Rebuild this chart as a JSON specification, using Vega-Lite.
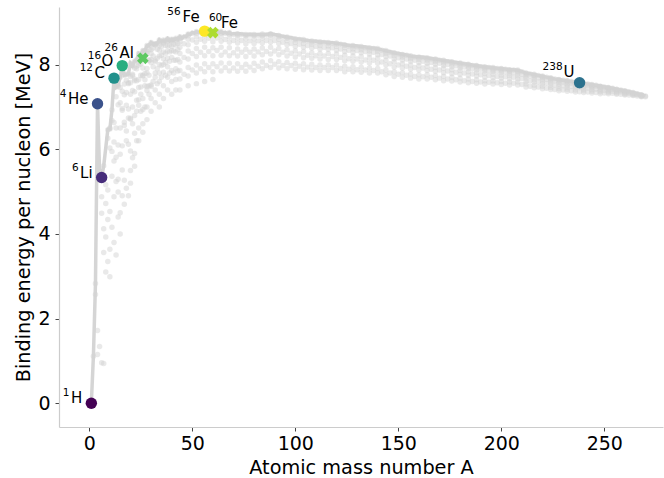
{
"$schema": "https://vega.github.io/schema/vega-lite/v6.json",
"width": 604, "height": 420,
"autosize": {"type": "none"},
"padding": {"left": 59, "top": 7, "right": 1, "bottom": 51},
"background": "white",
"config": {"view": {"stroke": null}, "font": "DejaVu Sans",
 "axis": {"grid": false, "domainColor": "#cccccc", "domainWidth": 1.2, "tickColor": "#444444", "tickSize": 4, "labelFontSize": 19, "titleFontSize": 19.3, "titleFontWeight": "normal", "labelColor": "#000000", "titleColor": "#000000", "labelFont": "DejaVu Sans", "titleFont": "DejaVu Sans"},
 "text": {"font": "DejaVu Sans", "color": "#000000"}},
"datasets": {
"cloud": [
{"a":2,"b":1.11},{"a":3,"b":2.83},{"a":3,"b":2.57},{"a":4,"b":1.72},{"a":4,"b":1.15},{"a":5,"b":5.48},{"a":5,"b":5.27},{"a":5,"b":1.34},
{"a":6,"b":4.88},{"a":6,"b":4.49},{"a":6,"b":0.96},{"a":7,"b":5.61},{"a":7,"b":5.37},{"a":7,"b":4.12},{"a":7,"b":3.56},{"a":7,"b":0.94},
{"a":8,"b":5.16},{"a":8,"b":4.72},{"a":8,"b":3.93},{"a":8,"b":3.1},
{"a":9,"b":6.46},{"a":9,"b":6.26},{"a":9,"b":5.04},{"a":9,"b":4.34},{"a":9,"b":3.35},
{"a":10,"b":6.5},{"a":10,"b":6.48},{"a":10,"b":6.03},{"a":10,"b":4.53},{"a":10,"b":3.64},{"a":10,"b":2.99},
{"a":11,"b":6.93},{"a":11,"b":6.68},{"a":11,"b":5.95},{"a":11,"b":5.36},{"a":11,"b":4.16},
{"a":12,"b":6.63},{"a":12,"b":6.17},{"a":12,"b":5.72},{"a":12,"b":4.88},{"a":12,"b":3.8},
{"a":13,"b":7.47},{"a":13,"b":7.24},{"a":13,"b":6.5},{"a":13,"b":5.81},{"a":13,"b":5.24},{"a":13,"b":3.5},
{"a":14,"b":7.52},{"a":14,"b":7.48},{"a":14,"b":7.05},{"a":14,"b":6.1},{"a":14,"b":5.29},{"a":14,"b":4.99},{"a":14,"b":4.4},
{"a":15,"b":7.7},{"a":15,"b":7.46},{"a":15,"b":7.1},{"a":15,"b":6.5},{"a":15,"b":5.88},{"a":15,"b":4.5},{"a":15,"b":4.0},
{"a":16,"b":7.37},{"a":16,"b":6.96},{"a":16,"b":6.92},{"a":16,"b":6.08},{"a":16,"b":5.51},{"a":16,"b":4.9},
{"a":17,"b":7.75},{"a":17,"b":7.54},{"a":17,"b":7.29},{"a":17,"b":6.64},{"a":17,"b":6.56},{"a":17,"b":5.27},{"a":17,"b":4.7},
{"a":18,"b":7.77},{"a":18,"b":7.63},{"a":18,"b":7.34},{"a":18,"b":7.04},{"a":18,"b":6.43},{"a":18,"b":6.2},{"a":18,"b":5.08},
{"a":19,"b":7.78},{"a":19,"b":7.57},{"a":19,"b":7.55},{"a":19,"b":6.95},{"a":19,"b":6.74},{"a":19,"b":6.12},{"a":19,"b":4.9},
{"a":20,"b":8.03},{"a":20,"b":7.72},{"a":20,"b":7.57},{"a":20,"b":7.3},{"a":20,"b":6.73},{"a":20,"b":6.71},{"a":20,"b":5.96},{"a":20,"b":5.5},{"a":20,"b":5.2},
{"a":21,"b":7.97},{"a":21,"b":7.77},{"a":21,"b":7.74},{"a":21,"b":7.39},{"a":21,"b":7.0},{"a":21,"b":6.6},{"a":21,"b":5.8},
{"a":22,"b":8.08},{"a":22,"b":7.92},{"a":22,"b":7.66},{"a":22,"b":7.62},{"a":22,"b":7.36},{"a":22,"b":6.8},{"a":22,"b":6.38},{"a":22,"b":5.9},{"a":22,"b":5.6},
{"a":23,"b":8.11},{"a":23,"b":7.96},{"a":23,"b":7.9},{"a":23,"b":7.62},{"a":23,"b":7.16},{"a":23,"b":6.9},{"a":23,"b":6.2},
{"a":24,"b":8.26},{"a":24,"b":8.06},{"a":24,"b":7.99},{"a":24,"b":7.65},{"a":24,"b":7.46},{"a":24,"b":7.17},{"a":24,"b":7.04},{"a":24,"b":6.5},{"a":24,"b":6.2},
{"a":25,"b":8.22},{"a":25,"b":8.1},{"a":25,"b":8.02},{"a":25,"b":7.75},{"a":25,"b":7.47},{"a":25,"b":7.3},{"a":25,"b":6.9},
{"a":26,"b":8.33},{"a":26,"b":7.92},{"a":26,"b":7.75},{"a":26,"b":7.73},{"a":26,"b":7.2},{"a":26,"b":6.94},{"a":26,"b":6.6},{"a":26,"b":6.4},
{"a":27,"b":8.33},{"a":27,"b":8.26},{"a":27,"b":8.12},{"a":27,"b":7.79},{"a":27,"b":7.64},{"a":27,"b":7.5},{"a":27,"b":7.0},
{"a":28,"b":8.45},{"a":28,"b":8.31},{"a":28,"b":8.27},{"a":28,"b":7.91},{"a":28,"b":7.8},{"a":28,"b":7.48},{"a":28,"b":7.39},{"a":28,"b":7.0},{"a":28,"b":6.7},
{"a":29,"b":8.45},{"a":29,"b":8.35},{"a":29,"b":8.11},{"a":29,"b":8.09},{"a":29,"b":7.75},{"a":29,"b":7.5},{"a":29,"b":7.3},
{"a":30,"b":8.52},{"a":30,"b":8.35},{"a":30,"b":8.26},{"a":30,"b":8.12},{"a":30,"b":8.05},{"a":30,"b":7.52},{"a":30,"b":7.48},{"a":30,"b":7.2},{"a":30,"b":6.9},
{"a":31,"b":8.48},{"a":31,"b":8.39},{"a":31,"b":8.2},{"a":31,"b":7.95},{"a":31,"b":7.6},
{"a":32,"b":8.49},{"a":32,"b":8.48},{"a":32,"b":8.46},{"a":32,"b":8.1},{"a":32,"b":8.07},{"a":32,"b":7.8},{"a":32,"b":7.7},{"a":32,"b":7.4},{"a":32,"b":7.1},
{"a":33,"b":8.5},{"a":33,"b":8.36},{"a":33,"b":8.15},{"a":33,"b":7.9},{"a":33,"b":7.55},
{"a":34,"b":8.58},{"a":34,"b":8.45},{"a":34,"b":8.34},{"a":34,"b":8.2},{"a":34,"b":8.0},{"a":34,"b":7.8},{"a":34,"b":7.6},{"a":34,"b":7.3},{"a":34,"b":7.0},
{"a":35,"b":8.54},{"a":35,"b":8.42},{"a":35,"b":8.22},{"a":35,"b":7.98},{"a":35,"b":7.7},
{"a":36,"b":8.58},{"a":36,"b":8.52},{"a":36,"b":8.5},{"a":36,"b":8.3},{"a":36,"b":8.14},{"a":36,"b":8.0},{"a":36,"b":7.82},{"a":36,"b":7.5},{"a":36,"b":7.2},
{"a":37,"b":8.56},{"a":37,"b":8.45},{"a":37,"b":8.27},{"a":37,"b":8.05},{"a":37,"b":7.75},
{"a":38,"b":8.61},{"a":38,"b":8.55},{"a":38,"b":8.44},{"a":38,"b":8.32},{"a":38,"b":8.15},{"a":38,"b":7.95},{"a":38,"b":7.7},{"a":38,"b":7.4},
{"a":39,"b":8.56},{"a":39,"b":8.46},{"a":39,"b":8.3},{"a":39,"b":8.08},{"a":39,"b":7.8},
{"a":40,"b":8.6},{"a":40,"b":8.58},{"a":40,"b":8.54},{"a":40,"b":8.43},{"a":40,"b":8.33},{"a":40,"b":8.17},{"a":40,"b":7.86},{"a":40,"b":7.6},{"a":40,"b":7.3},
{"a":41,"b":8.58},{"a":41,"b":8.48},{"a":41,"b":8.32},{"a":41,"b":8.1},{"a":41,"b":7.8},
{"a":42,"b":8.62},{"a":42,"b":8.58},{"a":42,"b":8.46},{"a":42,"b":8.3},{"a":42,"b":8.1},{"a":42,"b":7.9},{"a":42,"b":7.65},{"a":42,"b":7.4},
{"a":43,"b":8.6},{"a":43,"b":8.5},{"a":43,"b":8.35},{"a":43,"b":8.12},{"a":43,"b":7.85},
{"a":44,"b":8.66},{"a":44,"b":8.62},{"a":44,"b":8.54},{"a":44,"b":8.41},{"a":44,"b":8.26},{"a":44,"b":8.06},{"a":44,"b":7.86},{"a":44,"b":7.66},{"a":44,"b":7.4},
{"a":46,"b":8.65},{"a":46,"b":8.49},{"a":46,"b":8.17},{"a":46,"b":7.77},
{"a":48,"b":8.72},{"a":48,"b":8.68},{"a":48,"b":8.6},{"a":48,"b":8.47},{"a":48,"b":8.32},{"a":48,"b":8.13},{"a":48,"b":7.93},{"a":48,"b":7.73},{"a":48,"b":7.5},
{"a":50,"b":8.74},{"a":50,"b":8.58},{"a":50,"b":8.26},{"a":50,"b":7.87},
{"a":52,"b":8.78},{"a":52,"b":8.74},{"a":52,"b":8.66},{"a":52,"b":8.53},{"a":52,"b":8.38},{"a":52,"b":8.19},{"a":52,"b":7.99},{"a":52,"b":7.8},{"a":52,"b":7.55},
{"a":54,"b":8.76},{"a":54,"b":8.6},{"a":54,"b":8.29},{"a":54,"b":7.9},
{"a":56,"b":8.79},{"a":56,"b":8.75},{"a":56,"b":8.67},{"a":56,"b":8.55},{"a":56,"b":8.41},{"a":56,"b":8.21},{"a":56,"b":8.02},{"a":56,"b":7.83},{"a":56,"b":7.6},
{"a":58,"b":8.77},{"a":58,"b":8.62},{"a":58,"b":8.31},{"a":58,"b":7.93},
{"a":60,"b":8.78},{"a":60,"b":8.74},{"a":60,"b":8.67},{"a":60,"b":8.54},{"a":60,"b":8.4},{"a":60,"b":8.21},{"a":60,"b":8.02},{"a":60,"b":7.83},{"a":60,"b":7.65},
{"a":62,"b":8.78},{"a":62,"b":8.63},{"a":62,"b":8.33},{"a":62,"b":7.95},
{"a":64,"b":8.78},{"a":64,"b":8.74},{"a":64,"b":8.67},{"a":64,"b":8.55},{"a":64,"b":8.41},{"a":64,"b":8.22},{"a":64,"b":8.04},{"a":64,"b":7.85},
{"a":66,"b":8.74},{"a":66,"b":8.59},{"a":66,"b":8.3},{"a":66,"b":7.93},
{"a":68,"b":8.76},{"a":68,"b":8.72},{"a":68,"b":8.65},{"a":68,"b":8.53},{"a":68,"b":8.4},{"a":68,"b":8.21},{"a":68,"b":8.03},{"a":68,"b":7.85},
{"a":70,"b":8.71},{"a":70,"b":8.57},{"a":70,"b":8.28},{"a":70,"b":7.92},
{"a":72,"b":8.73},{"a":72,"b":8.7},{"a":72,"b":8.63},{"a":72,"b":8.51},{"a":72,"b":8.37},{"a":72,"b":8.2},{"a":72,"b":8.02},{"a":72,"b":7.84},
{"a":74,"b":8.71},{"a":74,"b":8.57},{"a":74,"b":8.29},{"a":74,"b":7.93},
{"a":76,"b":8.71},{"a":76,"b":8.68},{"a":76,"b":8.61},{"a":76,"b":8.49},{"a":76,"b":8.36},{"a":76,"b":8.19},{"a":76,"b":8.01},{"a":76,"b":7.84},
{"a":78,"b":8.7},{"a":78,"b":8.56},{"a":78,"b":8.29},{"a":78,"b":7.94},
{"a":80,"b":8.71},{"a":80,"b":8.68},{"a":80,"b":8.61},{"a":80,"b":8.5},{"a":80,"b":8.37},{"a":80,"b":8.2},{"a":80,"b":8.03},{"a":80,"b":7.86},
{"a":82,"b":8.69},{"a":82,"b":8.56},{"a":82,"b":8.3},{"a":82,"b":7.96},
{"a":84,"b":8.72},{"a":84,"b":8.68},{"a":84,"b":8.62},{"a":84,"b":8.51},{"a":84,"b":8.39},{"a":84,"b":8.23},{"a":84,"b":8.06},{"a":84,"b":7.9},
{"a":86,"b":8.7},{"a":86,"b":8.57},{"a":86,"b":8.31},{"a":86,"b":7.98},
{"a":88,"b":8.73},{"a":88,"b":8.7},{"a":88,"b":8.64},{"a":88,"b":8.53},{"a":88,"b":8.41},{"a":88,"b":8.25},{"a":88,"b":8.09},{"a":88,"b":7.93},
{"a":90,"b":8.69},{"a":90,"b":8.57},{"a":90,"b":8.32},{"a":90,"b":8.01},
{"a":92,"b":8.69},{"a":92,"b":8.66},{"a":92,"b":8.6},{"a":92,"b":8.5},{"a":92,"b":8.38},{"a":92,"b":8.23},{"a":92,"b":8.07},{"a":92,"b":7.92},
{"a":94,"b":8.65},{"a":94,"b":8.53},{"a":94,"b":8.29},{"a":94,"b":7.98},
{"a":96,"b":8.65},{"a":96,"b":8.62},{"a":96,"b":8.56},{"a":96,"b":8.47},{"a":96,"b":8.35},{"a":96,"b":8.2},{"a":96,"b":8.05},{"a":96,"b":7.9},
{"a":98,"b":8.62},{"a":98,"b":8.5},{"a":98,"b":8.27},{"a":98,"b":7.98},
{"a":100,"b":8.61},{"a":100,"b":8.58},{"a":100,"b":8.52},{"a":100,"b":8.43},{"a":100,"b":8.32},{"a":100,"b":8.18},{"a":100,"b":8.03},{"a":100,"b":7.89},
{"a":102,"b":8.59},{"a":102,"b":8.48},{"a":102,"b":8.25},{"a":102,"b":7.96},
{"a":104,"b":8.59},{"a":104,"b":8.56},{"a":104,"b":8.5},{"a":104,"b":8.41},{"a":104,"b":8.31},{"a":104,"b":8.16},{"a":104,"b":8.02},{"a":104,"b":7.88},
{"a":106,"b":8.56},{"a":106,"b":8.45},{"a":106,"b":8.22},{"a":106,"b":7.94},
{"a":108,"b":8.56},{"a":108,"b":8.53},{"a":108,"b":8.48},{"a":108,"b":8.39},{"a":108,"b":8.28},{"a":108,"b":8.15},{"a":108,"b":8.01},{"a":108,"b":7.87},
{"a":110,"b":8.54},{"a":110,"b":8.43},{"a":110,"b":8.21},{"a":110,"b":7.93},
{"a":112,"b":8.54},{"a":112,"b":8.51},{"a":112,"b":8.45},{"a":112,"b":8.37},{"a":112,"b":8.26},{"a":112,"b":8.13},{"a":112,"b":7.99},{"a":112,"b":7.86},
{"a":114,"b":8.52},{"a":114,"b":8.41},{"a":114,"b":8.2},{"a":114,"b":7.93},
{"a":116,"b":8.52},{"a":116,"b":8.5},{"a":116,"b":8.44},{"a":116,"b":8.36},{"a":116,"b":8.26},{"a":116,"b":8.12},{"a":116,"b":7.99},{"a":116,"b":7.86},
{"a":118,"b":8.5},{"a":118,"b":8.4},{"a":118,"b":8.19},{"a":118,"b":7.93},
{"a":120,"b":8.51},{"a":120,"b":8.48},{"a":120,"b":8.43},{"a":120,"b":8.34},{"a":120,"b":8.25},{"a":120,"b":8.12},{"a":120,"b":7.99},{"a":120,"b":7.86},
{"a":122,"b":8.48},{"a":122,"b":8.37},{"a":122,"b":8.17},{"a":122,"b":7.91},
{"a":124,"b":8.47},{"a":124,"b":8.45},{"a":124,"b":8.4},{"a":124,"b":8.31},{"a":124,"b":8.22},{"a":124,"b":8.09},{"a":124,"b":7.96},{"a":124,"b":7.83},
{"a":126,"b":8.44},{"a":126,"b":8.34},{"a":126,"b":8.14},{"a":126,"b":7.89},
{"a":128,"b":8.45},{"a":128,"b":8.42},{"a":128,"b":8.37},{"a":128,"b":8.29},{"a":128,"b":8.2},{"a":128,"b":8.08},{"a":128,"b":7.95},{"a":128,"b":7.83},
{"a":130,"b":8.42},{"a":130,"b":8.33},{"a":130,"b":8.13},{"a":130,"b":7.88},
{"a":132,"b":8.43},{"a":132,"b":8.4},{"a":132,"b":8.35},{"a":132,"b":8.28},{"a":132,"b":8.19},{"a":132,"b":8.06},{"a":132,"b":7.94},{"a":132,"b":7.82},
{"a":134,"b":8.4},{"a":134,"b":8.31},{"a":134,"b":8.11},{"a":134,"b":7.87},
{"a":136,"b":8.4},{"a":136,"b":8.37},{"a":136,"b":8.32},{"a":136,"b":8.25},{"a":136,"b":8.16},{"a":136,"b":8.04},{"a":136,"b":7.92},{"a":136,"b":7.8},
{"a":138,"b":8.38},{"a":138,"b":8.29},{"a":138,"b":8.1},{"a":138,"b":7.86},
{"a":140,"b":8.38},{"a":140,"b":8.35},{"a":140,"b":8.31},{"a":140,"b":8.23},{"a":140,"b":8.15},{"a":140,"b":8.03},{"a":140,"b":7.91},{"a":140,"b":7.8},
{"a":142,"b":8.34},{"a":142,"b":8.24},{"a":142,"b":8.06},{"a":142,"b":7.83},
{"a":144,"b":8.33},{"a":144,"b":8.3},{"a":144,"b":8.26},{"a":144,"b":8.19},{"a":144,"b":8.1},{"a":144,"b":7.99},{"a":144,"b":7.87},{"a":144,"b":7.76},
{"a":146,"b":8.29},{"a":146,"b":8.2},{"a":146,"b":8.02},{"a":146,"b":7.8},
{"a":148,"b":8.28},{"a":148,"b":8.26},{"a":148,"b":8.21},{"a":148,"b":8.14},{"a":148,"b":8.06},{"a":148,"b":7.94},{"a":148,"b":7.83},{"a":148,"b":7.72},
{"a":150,"b":8.25},{"a":150,"b":8.16},{"a":150,"b":7.99},{"a":150,"b":7.77},
{"a":152,"b":8.24},{"a":152,"b":8.22},{"a":152,"b":8.18},{"a":152,"b":8.11},{"a":152,"b":8.02},{"a":152,"b":7.92},{"a":152,"b":7.81},{"a":152,"b":7.7},
{"a":154,"b":8.22},{"a":154,"b":8.13},{"a":154,"b":7.96},{"a":154,"b":7.75},
{"a":156,"b":8.21},{"a":156,"b":8.18},{"a":156,"b":8.14},{"a":156,"b":8.08},{"a":156,"b":7.99},{"a":156,"b":7.89},{"a":156,"b":7.78},{"a":156,"b":7.68},
{"a":158,"b":8.18},{"a":158,"b":8.1},{"a":158,"b":7.93},{"a":158,"b":7.72},
{"a":160,"b":8.18},{"a":160,"b":8.16},{"a":160,"b":8.12},{"a":160,"b":8.05},{"a":160,"b":7.97},{"a":160,"b":7.87},{"a":160,"b":7.76},{"a":160,"b":7.66},
{"a":162,"b":8.16},{"a":162,"b":8.08},{"a":162,"b":7.92},{"a":162,"b":7.71},
{"a":164,"b":8.16},{"a":164,"b":8.14},{"a":164,"b":8.1},{"a":164,"b":8.03},{"a":164,"b":7.96},{"a":164,"b":7.86},{"a":164,"b":7.76},{"a":164,"b":7.66},
{"a":166,"b":8.13},{"a":166,"b":8.05},{"a":166,"b":7.89},{"a":166,"b":7.7},
{"a":168,"b":8.13},{"a":168,"b":8.11},{"a":168,"b":8.07},{"a":168,"b":8.01},{"a":168,"b":7.93},{"a":168,"b":7.84},{"a":168,"b":7.74},{"a":168,"b":7.64},
{"a":170,"b":8.1},{"a":170,"b":8.03},{"a":170,"b":7.87},{"a":170,"b":7.68},
{"a":172,"b":8.1},{"a":172,"b":8.08},{"a":172,"b":8.04},{"a":172,"b":7.98},{"a":172,"b":7.91},{"a":172,"b":7.81},{"a":172,"b":7.72},{"a":172,"b":7.62},
{"a":174,"b":8.07},{"a":174,"b":8.0},{"a":174,"b":7.85},{"a":174,"b":7.66},
{"a":176,"b":8.07},{"a":176,"b":8.05},{"a":176,"b":8.01},{"a":176,"b":7.95},{"a":176,"b":7.88},{"a":176,"b":7.79},{"a":176,"b":7.7},{"a":176,"b":7.61},
{"a":178,"b":8.04},{"a":178,"b":7.97},{"a":178,"b":7.82},{"a":178,"b":7.64},
{"a":180,"b":8.04},{"a":180,"b":8.02},{"a":180,"b":7.98},{"a":180,"b":7.92},{"a":180,"b":7.86},{"a":180,"b":7.77},{"a":180,"b":7.68},{"a":180,"b":7.59},
{"a":182,"b":8.01},{"a":182,"b":7.94},{"a":182,"b":7.8},{"a":182,"b":7.62},
{"a":184,"b":8.01},{"a":184,"b":7.99},{"a":184,"b":7.95},{"a":184,"b":7.9},{"a":184,"b":7.83},{"a":184,"b":7.75},{"a":184,"b":7.66},{"a":184,"b":7.57},
{"a":186,"b":7.98},{"a":186,"b":7.91},{"a":186,"b":7.78},{"a":186,"b":7.6},
{"a":188,"b":7.98},{"a":188,"b":7.96},{"a":188,"b":7.93},{"a":188,"b":7.87},{"a":188,"b":7.81},{"a":188,"b":7.73},{"a":188,"b":7.64},{"a":188,"b":7.56},
{"a":190,"b":7.95},{"a":190,"b":7.89},{"a":190,"b":7.76},{"a":190,"b":7.59},
{"a":192,"b":7.95},{"a":192,"b":7.93},{"a":192,"b":7.9},{"a":192,"b":7.85},{"a":192,"b":7.79},{"a":192,"b":7.7},{"a":192,"b":7.62},{"a":192,"b":7.54},
{"a":194,"b":7.93},{"a":194,"b":7.86},{"a":194,"b":7.74},{"a":194,"b":7.58},
{"a":196,"b":7.93},{"a":196,"b":7.91},{"a":196,"b":7.88},{"a":196,"b":7.83},{"a":196,"b":7.77},{"a":196,"b":7.69},{"a":196,"b":7.61},{"a":196,"b":7.54},
{"a":198,"b":7.91},{"a":198,"b":7.84},{"a":198,"b":7.72},{"a":198,"b":7.57},
{"a":200,"b":7.91},{"a":200,"b":7.89},{"a":200,"b":7.86},{"a":200,"b":7.81},{"a":200,"b":7.75},{"a":200,"b":7.68},{"a":200,"b":7.6},{"a":200,"b":7.53},
{"a":202,"b":7.89},{"a":202,"b":7.83},{"a":202,"b":7.71},{"a":202,"b":7.56},
{"a":204,"b":7.88},{"a":204,"b":7.87},{"a":204,"b":7.84},{"a":204,"b":7.79},{"a":204,"b":7.74},{"a":204,"b":7.66},{"a":204,"b":7.59},{"a":204,"b":7.52},
{"a":206,"b":7.87},{"a":206,"b":7.81},{"a":206,"b":7.7},{"a":206,"b":7.56},
{"a":208,"b":7.87},{"a":208,"b":7.85},{"a":208,"b":7.83},{"a":208,"b":7.78},{"a":208,"b":7.73},{"a":208,"b":7.66},{"a":208,"b":7.59},{"a":208,"b":7.52},
{"a":210,"b":7.83},{"a":210,"b":7.77},{"a":210,"b":7.67},{"a":210,"b":7.53},
{"a":212,"b":7.8},{"a":212,"b":7.79},{"a":212,"b":7.76},{"a":212,"b":7.72},{"a":212,"b":7.67},{"a":212,"b":7.6},{"a":212,"b":7.54},{"a":212,"b":7.47},
{"a":214,"b":7.78},{"a":214,"b":7.73},{"a":214,"b":7.62},{"a":214,"b":7.49},
{"a":216,"b":7.77},{"a":216,"b":7.75},{"a":216,"b":7.73},{"a":216,"b":7.69},{"a":216,"b":7.64},{"a":216,"b":7.58},{"a":216,"b":7.51},{"a":216,"b":7.45},
{"a":218,"b":7.74},{"a":218,"b":7.69},{"a":218,"b":7.59},{"a":218,"b":7.47},
{"a":220,"b":7.73},{"a":220,"b":7.71},{"a":220,"b":7.69},{"a":220,"b":7.65},{"a":220,"b":7.61},{"a":220,"b":7.55},{"a":220,"b":7.49},{"a":220,"b":7.43},
{"a":222,"b":7.7},{"a":222,"b":7.65},{"a":222,"b":7.56},{"a":222,"b":7.44},
{"a":224,"b":7.69},{"a":224,"b":7.67},{"a":224,"b":7.65},{"a":224,"b":7.62},{"a":224,"b":7.57},{"a":224,"b":7.52},{"a":224,"b":7.46},{"a":224,"b":7.41},
{"a":226,"b":7.66},{"a":226,"b":7.61},{"a":226,"b":7.52},{"a":226,"b":7.41},
{"a":228,"b":7.65},{"a":228,"b":7.64},{"a":228,"b":7.61},{"a":228,"b":7.58},{"a":228,"b":7.54},{"a":228,"b":7.49},{"a":228,"b":7.43},{"a":228,"b":7.38},
{"a":230,"b":7.63},{"a":230,"b":7.58},{"a":230,"b":7.5},{"a":230,"b":7.4},
{"a":232,"b":7.62},{"a":232,"b":7.61},{"a":232,"b":7.59},{"a":232,"b":7.55},{"a":232,"b":7.52},{"a":232,"b":7.47},{"a":232,"b":7.42},{"a":232,"b":7.37},
{"a":234,"b":7.6},{"a":234,"b":7.56},{"a":234,"b":7.48},{"a":234,"b":7.38},
{"a":236,"b":7.59},{"a":236,"b":7.58},{"a":236,"b":7.56},{"a":236,"b":7.53},{"a":236,"b":7.49},{"a":236,"b":7.45},{"a":236,"b":7.4},{"a":236,"b":7.35},
{"a":238,"b":7.57},{"a":238,"b":7.53},{"a":238,"b":7.45},{"a":238,"b":7.36},
{"a":240,"b":7.56},{"a":240,"b":7.55},{"a":240,"b":7.53},{"a":240,"b":7.5},{"a":240,"b":7.47},{"a":240,"b":7.42},{"a":240,"b":7.38},{"a":240,"b":7.34},
{"a":242,"b":7.54},{"a":242,"b":7.5},{"a":242,"b":7.44},{"a":242,"b":7.35},
{"a":244,"b":7.53},{"a":244,"b":7.52},{"a":244,"b":7.5},{"a":244,"b":7.48},{"a":244,"b":7.45},{"a":244,"b":7.41},{"a":244,"b":7.37},{"a":244,"b":7.33},
{"a":246,"b":7.51},{"a":246,"b":7.48},{"a":246,"b":7.42},{"a":246,"b":7.34},
{"a":248,"b":7.49},{"a":248,"b":7.48},{"a":248,"b":7.47},{"a":248,"b":7.45},{"a":248,"b":7.42},{"a":248,"b":7.38},{"a":248,"b":7.35},{"a":248,"b":7.31},
{"a":250,"b":7.47},{"a":250,"b":7.45},{"a":250,"b":7.39},{"a":250,"b":7.33},
{"a":252,"b":7.46},{"a":252,"b":7.45},{"a":252,"b":7.44},{"a":252,"b":7.42},{"a":252,"b":7.4},{"a":252,"b":7.37},{"a":252,"b":7.34},{"a":252,"b":7.31},
{"a":254,"b":7.44},{"a":254,"b":7.42},{"a":254,"b":7.37},{"a":254,"b":7.32},
{"a":256,"b":7.42},{"a":256,"b":7.41},{"a":256,"b":7.39},{"a":256,"b":7.37},{"a":256,"b":7.35},{"a":256,"b":7.32},{"a":256,"b":7.3},
{"a":258,"b":7.4},{"a":258,"b":7.38},{"a":258,"b":7.35},{"a":258,"b":7.3},
{"a":260,"b":7.38},{"a":260,"b":7.37},{"a":260,"b":7.36},{"a":260,"b":7.34},{"a":260,"b":7.32},{"a":260,"b":7.3},{"a":260,"b":7.28},
{"a":262,"b":7.36},{"a":262,"b":7.34},{"a":262,"b":7.32},{"a":262,"b":7.28},
{"a":264,"b":7.34},{"a":264,"b":7.33},{"a":264,"b":7.32},{"a":264,"b":7.31},{"a":264,"b":7.3},{"a":264,"b":7.28},{"a":264,"b":7.27},
{"a":266,"b":7.31},{"a":266,"b":7.3},{"a":266,"b":7.29},{"a":266,"b":7.26},
{"a":268,"b":7.29},{"a":268,"b":7.28},{"a":268,"b":7.27},{"a":268,"b":7.26},{"a":268,"b":7.25},{"a":268,"b":7.24},
{"a":270,"b":7.26},{"a":270,"b":7.24}
],
"line": [
{"a":1,"b":0},{"a":2,"b":1.112},{"a":3,"b":2.827},{"a":4,"b":7.074},{"a":5,"b":5.48},{"a":6,"b":5.332},{"a":7,"b":5.606},{"a":9,"b":6.463},{"a":10,"b":6.475},
{"a":11,"b":6.928},{"a":12,"b":7.68},{"a":13,"b":7.47},{"a":14,"b":7.52},{"a":15,"b":7.699},{"a":16,"b":7.976},{"a":17,"b":7.751},{"a":18,"b":7.767},{"a":19,"b":7.779},{"a":20,"b":8.032},
{"a":21,"b":7.972},{"a":22,"b":8.081},{"a":23,"b":8.112},{"a":24,"b":8.261},{"a":25,"b":8.224},{"a":26,"b":8.334},{"a":27,"b":8.332},{"a":28,"b":8.448},{"a":29,"b":8.449},{"a":30,"b":8.521},
{"a":31,"b":8.481},{"a":32,"b":8.493},{"a":33,"b":8.498},{"a":34,"b":8.584},{"a":35,"b":8.538},{"a":36,"b":8.576},{"a":37,"b":8.56},{"a":38,"b":8.614},{"a":39,"b":8.563},{"a":40,"b":8.595},
{"a":41,"b":8.576},{"a":42,"b":8.617},{"a":43,"b":8.601},{"a":44,"b":8.658},{"a":45,"b":8.619},{"a":46,"b":8.669},{"a":47,"b":8.661},{"a":48,"b":8.723},{"a":49,"b":8.711},{"a":50,"b":8.756},
{"a":51,"b":8.742},{"a":52,"b":8.776},{"a":53,"b":8.76},{"a":54,"b":8.778},{"a":55,"b":8.765},{"a":56,"b":8.79},{"a":57,"b":8.77},{"a":58,"b":8.792},{"a":59,"b":8.768},{"a":60,"b":8.781},
{"a":61,"b":8.765},{"a":62,"b":8.795},{"a":63,"b":8.753},{"a":64,"b":8.778},{"a":65,"b":8.741},{"a":66,"b":8.76},{"a":67,"b":8.734},{"a":68,"b":8.756},{"a":69,"b":8.724},{"a":70,"b":8.73},
{"a":72,"b":8.732},{"a":74,"b":8.725},{"a":76,"b":8.711},{"a":78,"b":8.718},{"a":80,"b":8.711},{"a":82,"b":8.711},{"a":84,"b":8.717},{"a":86,"b":8.712},{"a":88,"b":8.733},{"a":90,"b":8.71},
{"a":92,"b":8.693},{"a":94,"b":8.667},{"a":96,"b":8.654},{"a":98,"b":8.635},{"a":100,"b":8.609},{"a":102,"b":8.607},{"a":104,"b":8.587},{"a":106,"b":8.571},{"a":108,"b":8.56},{"a":110,"b":8.551},
{"a":112,"b":8.536},{"a":114,"b":8.531},{"a":116,"b":8.523},{"a":118,"b":8.517},{"a":120,"b":8.505},{"a":122,"b":8.488},{"a":124,"b":8.473},{"a":126,"b":8.452},{"a":128,"b":8.448},{"a":130,"b":8.437},
{"a":132,"b":8.428},{"a":134,"b":8.414},{"a":136,"b":8.396},{"a":138,"b":8.393},{"a":140,"b":8.376},{"a":142,"b":8.347},{"a":144,"b":8.327},{"a":146,"b":8.304},{"a":148,"b":8.28},{"a":150,"b":8.262},
{"a":152,"b":8.244},{"a":154,"b":8.227},{"a":156,"b":8.205},{"a":158,"b":8.193},{"a":160,"b":8.184},{"a":162,"b":8.173},{"a":164,"b":8.159},{"a":166,"b":8.142},{"a":168,"b":8.13},{"a":170,"b":8.112},
{"a":172,"b":8.097},{"a":174,"b":8.084},{"a":176,"b":8.065},{"a":178,"b":8.049},{"a":180,"b":8.035},{"a":182,"b":8.018},{"a":184,"b":8.006},{"a":186,"b":7.99},{"a":188,"b":7.978},{"a":190,"b":7.963},
{"a":192,"b":7.948},{"a":194,"b":7.936},{"a":196,"b":7.926},{"a":198,"b":7.914},{"a":200,"b":7.906},{"a":202,"b":7.897},{"a":204,"b":7.88},{"a":206,"b":7.876},{"a":208,"b":7.868},{"a":210,"b":7.835},
{"a":212,"b":7.804},{"a":214,"b":7.786},{"a":216,"b":7.765},{"a":218,"b":7.745},{"a":220,"b":7.726},{"a":222,"b":7.703},{"a":224,"b":7.685},{"a":226,"b":7.662},{"a":228,"b":7.646},{"a":230,"b":7.631},
{"a":232,"b":7.615},{"a":234,"b":7.601},{"a":236,"b":7.586},{"a":238,"b":7.57},{"a":240,"b":7.556},{"a":242,"b":7.54},{"a":244,"b":7.525},{"a":246,"b":7.51},{"a":248,"b":7.494},{"a":250,"b":7.475},
{"a":252,"b":7.46},{"a":254,"b":7.44},{"a":256,"b":7.42},{"a":258,"b":7.4},{"a":260,"b":7.38},{"a":262,"b":7.36},{"a":264,"b":7.338},{"a":266,"b":7.315},{"a":268,"b":7.29},{"a":270,"b":7.262}
],
"iso": [
{"a":1,"b":0,"id":"1H","mass":"1","sym":"H","kind":"stable"},
{"a":6,"b":5.332,"id":"6Li","mass":"6","sym":"Li","kind":"stable"},
{"a":4,"b":7.074,"id":"4He","mass":"4","sym":"He","kind":"stable"},
{"a":238,"b":7.57,"id":"238U","mass":"238","sym":"U","kind":"stable"},
{"a":12,"b":7.68,"id":"12C","mass":"12","sym":"C","kind":"stable"},
{"a":16,"b":7.976,"id":"16O","mass":"16","sym":"O","kind":"stable"},
{"a":26,"b":8.149,"id":"26Al","mass":"26","sym":"Al","kind":"radioactive"},
{"a":60,"b":8.756,"id":"60Fe","mass":"60","sym":"Fe","kind":"radioactive"},
{"a":56,"b":8.79,"id":"56Fe","mass":"56","sym":"Fe","kind":"stable"}
]
},
"layer": [
{"data": {"name": "cloud"}, "mark": {"type": "point", "filled": true, "shape": "circle", "size": 30, "color": "#d3d3d3", "opacity": 0.5, "strokeWidth": 0},
 "encoding": {
  "x": {"field": "a", "type": "quantitative", "scale": {"domain": [-14.7, 278.5], "nice": false, "zero": false}, "axis": {"values": [0,50,100,150,200,250], "title": "Atomic mass number A", "labelPadding": 3, "titlePadding": 5}},
  "y": {"field": "b", "type": "quantitative", "scale": {"domain": [-0.56, 9.36], "nice": false, "zero": false}, "axis": {"values": [0,2,4,6,8], "title": "Binding energy per nucleon [MeV]", "labelPadding": 5, "titlePadding": 4}}
 }},
{"data": {"name": "line"}, "mark": {"type": "line", "color": "#d3d3d3", "strokeWidth": 3.5, "opacity": 0.95},
 "encoding": {"x": {"field": "a", "type": "quantitative"}, "y": {"field": "b", "type": "quantitative"}}},
{"data": {"name": "iso"}, "transform": [{"filter": "datum.kind === 'stable'"}],
 "mark": {"type": "point", "filled": true, "shape": "circle", "size": 130, "opacity": 1, "strokeWidth": 0},
 "encoding": {"x": {"field": "a", "type": "quantitative"}, "y": {"field": "b", "type": "quantitative"},
  "color": {"field": "id", "type": "nominal", "legend": null, "scale": {"domain": ["1H","6Li","4He","238U","12C","16O","26Al","60Fe","56Fe"], "range": ["#440154","#472d7b","#3b528b","#2c728e","#21918c","#28ae80","#5ec962","#addc30","#fde725"]}}}},
{"data": {"name": "iso"}, "transform": [{"filter": "datum.kind === 'radioactive'"}],
 "mark": {"type": "point", "filled": true, "shape": "cross", "angle": 45, "size": 140, "opacity": 1, "strokeWidth": 0},
 "encoding": {"x": {"field": "a", "type": "quantitative"}, "y": {"field": "b", "type": "quantitative"},
  "color": {"field": "id", "type": "nominal", "legend": null}}},
{"data": {"name": "iso"}, "transform": [{"filter": "indexof(['1H','4He','6Li','12C','16O','26Al'], datum.id) >= 0"}],
 "mark": {"type": "text", "align": "right", "baseline": "alphabetic", "dx": -9, "dy": 0, "fontSize": 15},
 "encoding": {"x": {"field": "a", "type": "quantitative"}, "y": {"field": "b", "type": "quantitative"}, "text": {"field": "sym"}}},
{"data": {"name": "iso"}, "transform": [{"filter": "datum.id === '56Fe'"}],
 "mark": {"type": "text", "align": "right", "baseline": "alphabetic", "dx": -5, "dy": -9, "fontSize": 15},
 "encoding": {"x": {"field": "a", "type": "quantitative"}, "y": {"field": "b", "type": "quantitative"}, "text": {"field": "sym"}}},
{"data": {"name": "iso"}, "transform": [{"filter": "datum.id === '60Fe'"}],
 "mark": {"type": "text", "align": "left", "baseline": "alphabetic", "dx": 8, "dy": -5, "fontSize": 15},
 "encoding": {"x": {"field": "a", "type": "quantitative"}, "y": {"field": "b", "type": "quantitative"}, "text": {"field": "sym"}}},
{"data": {"name": "iso"}, "transform": [{"filter": "datum.id === '238U'"}],
 "mark": {"type": "text", "align": "right", "baseline": "alphabetic", "dx": -5, "dy": -6, "fontSize": 15},
 "encoding": {"x": {"field": "a", "type": "quantitative"}, "y": {"field": "b", "type": "quantitative"}, "text": {"field": "sym"}}},
{"data": {"name": "iso"}, "transform": [{"filter": "datum.id === '1H'"}],
 "mark": {"type": "text", "align": "right", "baseline": "alphabetic", "dx": -22, "dy": -7, "fontSize": 10.5},
 "encoding": {"x": {"field": "a", "type": "quantitative"}, "y": {"field": "b", "type": "quantitative"}, "text": {"field": "mass"}}},
{"data": {"name": "iso"}, "transform": [{"filter": "datum.id === '4He'"}],
 "mark": {"type": "text", "align": "right", "baseline": "alphabetic", "dx": -31, "dy": -7, "fontSize": 10.5},
 "encoding": {"x": {"field": "a", "type": "quantitative"}, "y": {"field": "b", "type": "quantitative"}, "text": {"field": "mass"}}},
{"data": {"name": "iso"}, "transform": [{"filter": "datum.id === '6Li'"}],
 "mark": {"type": "text", "align": "right", "baseline": "alphabetic", "dx": -23, "dy": -7, "fontSize": 10.5},
 "encoding": {"x": {"field": "a", "type": "quantitative"}, "y": {"field": "b", "type": "quantitative"}, "text": {"field": "mass"}}},
{"data": {"name": "iso"}, "transform": [{"filter": "indexof(['12C','16O'], datum.id) >= 0"}],
 "mark": {"type": "text", "align": "right", "baseline": "alphabetic", "dx": -21, "dy": -7, "fontSize": 10.5},
 "encoding": {"x": {"field": "a", "type": "quantitative"}, "y": {"field": "b", "type": "quantitative"}, "text": {"field": "mass"}}},
{"data": {"name": "iso"}, "transform": [{"filter": "datum.id === '26Al'"}],
 "mark": {"type": "text", "align": "right", "baseline": "alphabetic", "dx": -25, "dy": -7, "fontSize": 10.5},
 "encoding": {"x": {"field": "a", "type": "quantitative"}, "y": {"field": "b", "type": "quantitative"}, "text": {"field": "mass"}}},
{"data": {"name": "iso"}, "transform": [{"filter": "datum.id === '56Fe'"}],
 "mark": {"type": "text", "align": "right", "baseline": "alphabetic", "dx": -24, "dy": -16, "fontSize": 10.5},
 "encoding": {"x": {"field": "a", "type": "quantitative"}, "y": {"field": "b", "type": "quantitative"}, "text": {"field": "mass"}}},
{"data": {"name": "iso"}, "transform": [{"filter": "datum.id === '60Fe'"}],
 "mark": {"type": "text", "align": "left", "baseline": "alphabetic", "dx": -4, "dy": -12, "fontSize": 10.5},
 "encoding": {"x": {"field": "a", "type": "quantitative"}, "y": {"field": "b", "type": "quantitative"}, "text": {"field": "mass"}}},
{"data": {"name": "iso"}, "transform": [{"filter": "datum.id === '238U'"}],
 "mark": {"type": "text", "align": "right", "baseline": "alphabetic", "dx": -17, "dy": -13, "fontSize": 10.5},
 "encoding": {"x": {"field": "a", "type": "quantitative"}, "y": {"field": "b", "type": "quantitative"}, "text": {"field": "mass"}}}
]
}
